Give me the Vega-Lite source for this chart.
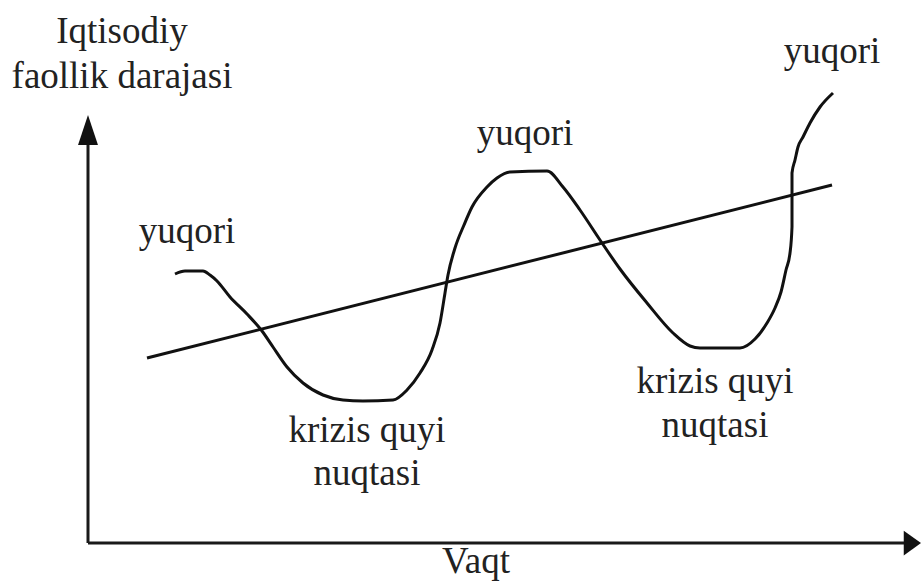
{
  "$schema": "https://vega.github.io/schema/vega-lite/v6.json",
  "width": 922,
  "height": 582,
  "autosize": {"type": "none"},
  "padding": 0,
  "background": "white",
  "config": {"view": {"stroke": null}},
  "datasets": {
    "curve": [
      {"t": 8.7, "a": 26.9}, {"t": 9.7, "a": 27.2}, {"t": 11.5, "a": 27.2}, {"t": 12.2, "a": 26.8},
      {"t": 12.9, "a": 26.2}, {"t": 14.2, "a": 24.6}, {"t": 15.9, "a": 22.9}, {"t": 17.4, "a": 21.2},
      {"t": 18.5, "a": 19.6}, {"t": 19.9, "a": 17.6}, {"t": 21.5, "a": 16.0}, {"t": 23.5, "a": 14.8},
      {"t": 25.5, "a": 14.3}, {"t": 27.5, "a": 14.2}, {"t": 30.5, "a": 14.3}, {"t": 31.9, "a": 15.3},
      {"t": 33.2, "a": 17.0}, {"t": 34.4, "a": 19.3}, {"t": 35.2, "a": 22.0}, {"t": 35.7, "a": 25.0},
      {"t": 36.0, "a": 26.8}, {"t": 36.7, "a": 29.5}, {"t": 37.6, "a": 31.8}, {"t": 38.4, "a": 33.6},
      {"t": 39.9, "a": 35.6}, {"t": 40.9, "a": 36.5}, {"t": 42.2, "a": 37.1}, {"t": 45.9, "a": 37.2},
      {"t": 47.5, "a": 35.6}, {"t": 49.2, "a": 33.3}, {"t": 51.2, "a": 30.3}, {"t": 53.2, "a": 27.4},
      {"t": 55.9, "a": 24.0}, {"t": 58.5, "a": 21.0}, {"t": 60.2, "a": 19.7}, {"t": 61.2, "a": 19.5},
      {"t": 65.2, "a": 19.5}, {"t": 66.7, "a": 20.4}, {"t": 67.9, "a": 22.0}, {"t": 68.7, "a": 23.5},
      {"t": 69.3, "a": 25.1}, {"t": 69.8, "a": 27.3}, {"t": 70.2, "a": 29.0}, {"t": 70.4, "a": 31.6},
      {"t": 70.4, "a": 37.0}, {"t": 70.7, "a": 38.3}, {"t": 71.0, "a": 39.6}, {"t": 71.5, "a": 40.6},
      {"t": 72.2, "a": 42.0}, {"t": 73.2, "a": 43.6}, {"t": 74.5, "a": 45.0}
    ],
    "trend": [{"t": 5.9, "a": 18.5}, {"t": 74.4, "a": 35.8}],
    "axes": [
      {"t": 0, "a": 0, "t2": 82, "a2": 0},
      {"t": 0, "a": 0, "t2": 0, "a2": 40.5}
    ],
    "arrowsX": [{"t": 83.3, "a": 0}],
    "arrowsY": [{"t": 0, "a": 42.8}],
    "labels": [
      {"t": 3.4, "a": 50.0, "text": "Iqtisodiy"},
      {"t": 3.4, "a": 45.5, "text": "faollik darajasi"},
      {"t": 9.9, "a": 30.0, "text": "yuqori"},
      {"t": 43.7, "a": 39.8, "text": "yuqori"},
      {"t": 74.4, "a": 48.0, "text": "yuqori"},
      {"t": 27.9, "a": 10.1, "text": "krizis quyi"},
      {"t": 27.9, "a": 5.8, "text": "nuqtasi"},
      {"t": 62.7, "a": 15.0, "text": "krizis quyi"},
      {"t": 62.7, "a": 10.6, "text": "nuqtasi"},
      {"t": 38.8, "a": -3.0, "text": "Vaqt"}
    ]
  },
  "encoding": {
    "x": {"field": "t", "type": "quantitative", "scale": {"domain": [-8.8, 83.4], "nice": false, "zero": false}, "axis": null},
    "y": {"field": "a", "type": "quantitative", "scale": {"domain": [-3.9, 54.3], "nice": false, "zero": false}, "axis": null}
  },
  "layer": [
    {
      "data": {"name": "axes"},
      "mark": {"type": "rule", "color": "#1a1a1a", "strokeWidth": 3},
      "encoding": {
        "x2": {"field": "t2"},
        "y2": {"field": "a2"}
      }
    },
    {
      "data": {"name": "arrowsX"},
      "mark": {"type": "point", "filled": true, "color": "#111", "opacity": 1, "size": 225, "shape": "M0,0L-2.3,-1.65L-2.3,1.65Z"}
    },
    {
      "data": {"name": "arrowsY"},
      "mark": {"type": "point", "filled": true, "color": "#111", "opacity": 1, "size": 225, "shape": "M0,0L1.33,4L-1.33,4Z"}
    },
    {
      "data": {"name": "trend"},
      "mark": {"type": "line", "color": "#111", "strokeWidth": 3}
    },
    {
      "data": {"name": "curve"},
      "mark": {"type": "line", "color": "#111", "strokeWidth": 3, "interpolate": "monotone", "strokeJoin": "round"},
      "encoding": {"order": {"value": null}}
    },
    {
      "data": {"name": "labels"},
      "mark": {"type": "text", "font": "'Liberation Serif', 'Times New Roman', 'DejaVu Serif', serif", "fontSize": 37, "align": "center", "baseline": "alphabetic", "color": "#222"},
      "encoding": {"text": {"field": "text"}}
    }
  ]
}
